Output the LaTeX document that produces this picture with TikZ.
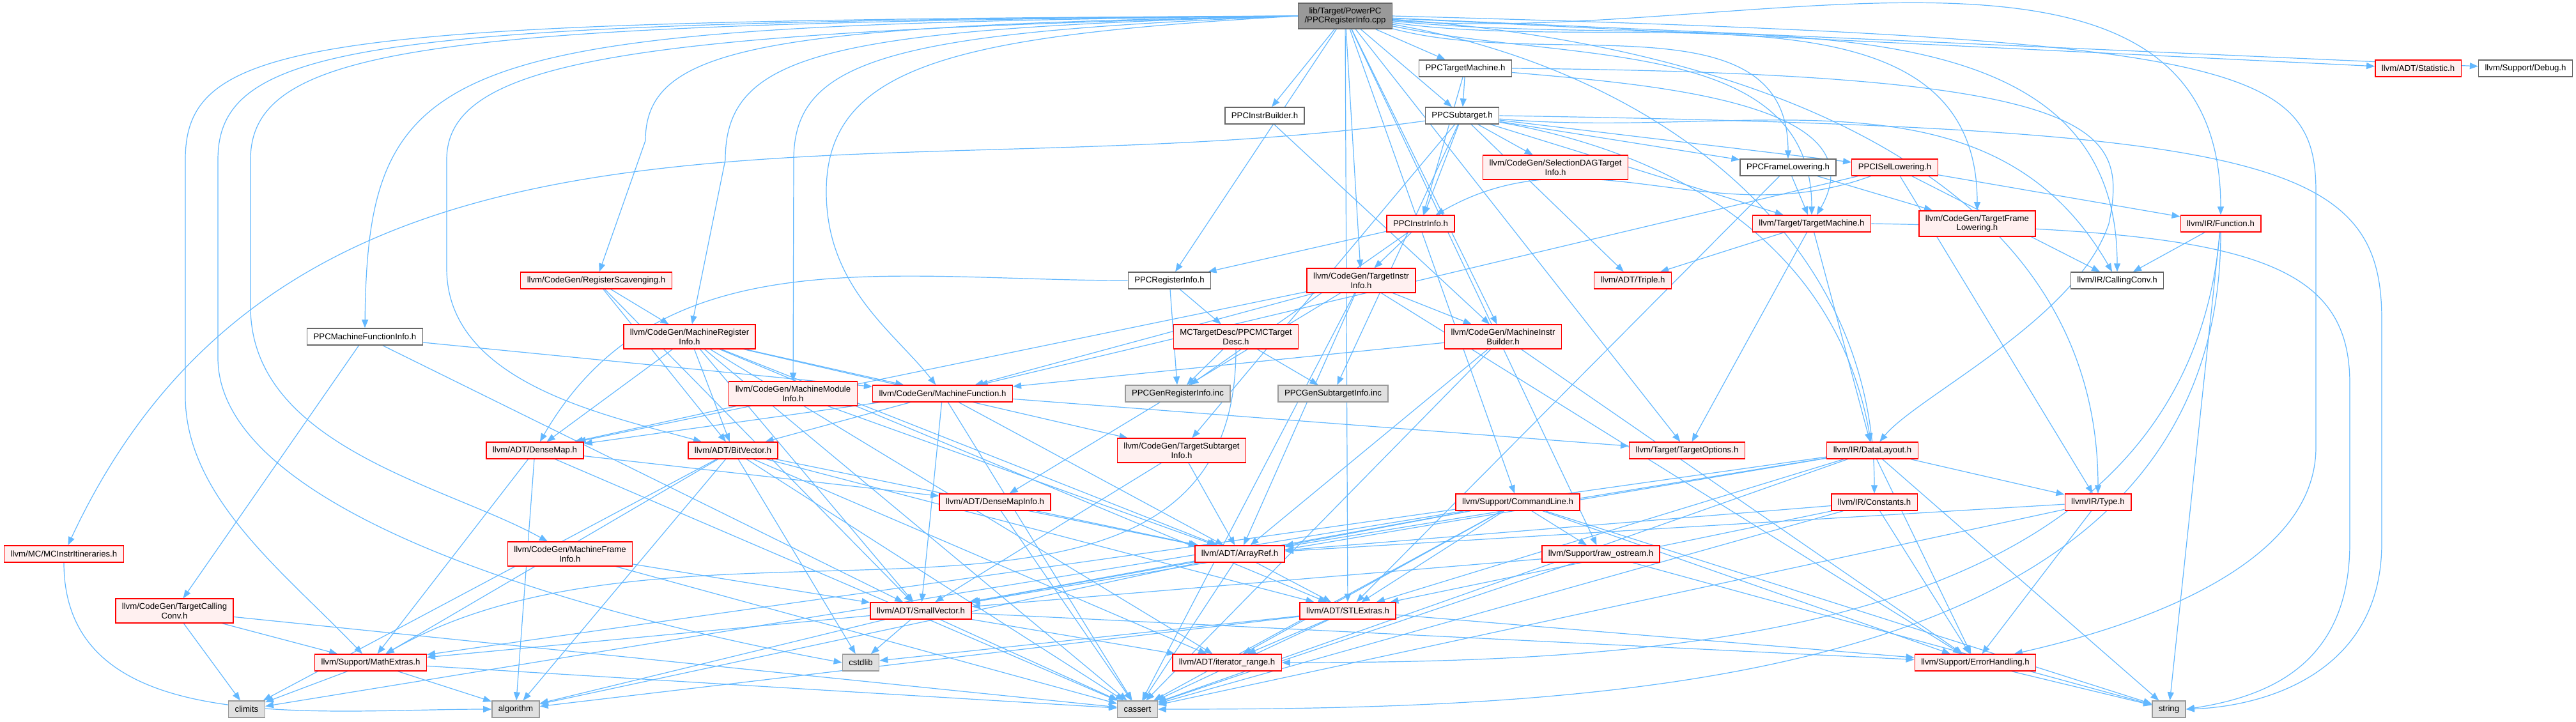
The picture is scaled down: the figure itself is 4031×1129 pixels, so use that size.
\documentclass[tikz,border=0pt]{standalone}
\usepackage{fontspec}
\setmainfont{Liberation Sans}
\usetikzlibrary{arrows.meta,backgrounds}
\definecolor{EdgeBlue}{HTML}{63B8FF}
\definecolor{TruncRed}{HTML}{FF0000}
\definecolor{TruncFill}{HTML}{FFF0F0}
\definecolor{HdrGrey}{HTML}{666666}
\definecolor{SysGrey}{HTML}{999999}
\definecolor{SysFill}{HTML}{E0E0E0}
\definecolor{RootFill}{HTML}{999999}

\begin{document}
\begin{tikzpicture}[
  x=0.25pt,y=-0.25pt,
  every node/.style={font=\fontsize{3.3pt}{3.7pt}\selectfont,align=center,inner xsep=2.5pt,inner ysep=1.65pt,minimum height=6.5pt,line width=0.35pt},
  rootbox/.style={draw=HdrGrey,fill=RootFill},
  hdr/.style={draw=HdrGrey,fill=white},
  trunc/.style={draw=TruncRed,fill=TruncFill},
  sys/.style={draw=SysGrey,fill=SysFill},
  dep/.style={-{Triangle[length=3.25pt,width=2.5pt]},draw=EdgeBlue,line width=0.3pt}
]
\useasboundingbox (0,0) rectangle (4031,1129);
% the file itself
\node[rootbox] (root) at (2105,25) {lib/Target/PowerPC\\/PPCRegisterInfo.cpp};
% rows of included headers
\node[hdr] (tm) at (2293,107) {PPCTargetMachine.h};
\node[trunc] (stat) at (3784,107) {llvm/ADT/Statistic.h};
\node[hdr] (dbg) at (3952,107) {llvm/Support/Debug.h};
\node[hdr] (ib) at (1979,181) {PPCInstrBuilder.h};
\node[hdr] (st) at (2288,181) {PPCSubtarget.h};
\node[trunc] (sdag) at (2434,262) {llvm/CodeGen/SelectionDAGTarget\\Info.h};
\node[hdr] (fl) at (2798,262) {PPCFrameLowering.h};
\node[trunc] (isel) at (2965,262) {PPCISelLowering.h};
\node[trunc] (ii) at (2223,350) {PPCInstrInfo.h};
\node[trunc] (ltm) at (2835,350) {llvm/Target/TargetMachine.h};
\node[trunc] (tfl) at (3094,350) {llvm/CodeGen/TargetFrame\\Lowering.h};
\node[trunc] (fn) at (3475,350) {llvm/IR/Function.h};
\node[trunc] (rs) at (933,439) {llvm/CodeGen/RegisterScavenging.h};
\node[hdr] (ri) at (1830,439) {PPCRegisterInfo.h};
\node[trunc] (tii) at (2130,439) {llvm/CodeGen/TargetInstr\\Info.h};
\node[trunc] (tri) at (2555,439) {llvm/ADT/Triple.h};
\node[hdr] (cc) at (3313,439) {llvm/IR/CallingConv.h};
\node[hdr] (mfi) at (571,527) {PPCMachineFunctionInfo.h};
\node[trunc] (mri) at (1079,527) {llvm/CodeGen/MachineRegister\\Info.h};
\node[trunc] (mcd) at (1934,527) {MCTargetDesc/PPCMCTarget\\Desc.h};
\node[trunc] (mib) at (2352,527) {llvm/CodeGen/MachineInstr\\Builder.h};
\node[trunc] (mmi) at (1241,616) {llvm/CodeGen/MachineModule\\Info.h};
\node[trunc] (mf) at (1475,616) {llvm/CodeGen/MachineFunction.h};
\node[sys] (gri) at (1843,616) {PPCGenRegisterInfo.inc};
\node[sys] (gsi) at (2086,616) {PPCGenSubtargetInfo.inc};
\node[trunc] (dm) at (837,705) {llvm/ADT/DenseMap.h};
\node[trunc] (bv) at (1147,705) {llvm/ADT/BitVector.h};
\node[trunc] (tsi) at (1849,705) {llvm/CodeGen/TargetSubtarget\\Info.h};
\node[trunc] (to) at (2640,705) {llvm/Target/TargetOptions.h};
\node[trunc] (dl) at (2930,705) {llvm/IR/DataLayout.h};
\node[trunc] (dmi) at (1557,786) {llvm/ADT/DenseMapInfo.h};
\node[trunc] (cl) at (2375,786) {llvm/Support/CommandLine.h};
\node[trunc] (cst) at (2933,786) {llvm/IR/Constants.h};
\node[trunc] (ty) at (3283,786) {llvm/IR/Type.h};
\node[trunc] (mii) at (100,867) {llvm/MC/MCInstrItineraries.h};
\node[trunc] (mfri) at (892,867) {llvm/CodeGen/MachineFrame\\Info.h};
\node[trunc] (ar) at (1940,867) {llvm/ADT/ArrayRef.h};
\node[trunc] (ro) at (2505,867) {llvm/Support/raw\_ostream.h};
\node[trunc] (tcc) at (273,956) {llvm/CodeGen/TargetCalling\\Conv.h};
\node[trunc] (sv) at (1441,956) {llvm/ADT/SmallVector.h};
\node[trunc] (stl) at (2109,956) {llvm/ADT/STLExtras.h};
\node[trunc] (me) at (580,1037) {llvm/Support/MathExtras.h};
\node[sys] (csl) at (1347,1037) {cstdlib};
\node[trunc] (ir) at (1920,1037) {llvm/ADT/iterator\_range.h};
\node[trunc] (eh) at (3091,1037) {llvm/Support/ErrorHandling.h};
\node[sys] (clim) at (386,1110) {climits};
\node[sys] (alg) at (807,1110) {algorithm};
\node[sys] (cas) at (1780,1110) {cassert};
\node[sys] (str) at (3394,1110) {string};

\begin{scope}[on background layer]
% includes of the .cpp
\draw[dep] (root) -- (tm); \draw[dep] (root) -- (st); \draw[dep] (root) -- (ib);
\draw[dep] (root) -- (ri); \draw[dep] (root) -- (tii); \draw[dep] (root) -- (mib);
\draw[dep] (root) -- (stl); \draw[dep] (root) -- (to); \draw[dep] (root) -- (cl);
\draw[dep] (root) -- (ro); \draw[dep] (root) -- (stat); \draw[dep] (root) -- (dbg);
\draw[dep] (root) to[out=-15,in=90] (fl);
\draw[dep] (root) to[out=-12,in=90] (ltm);
\draw[dep] (root) to[out=-8,in=90] (tfl);
\draw[dep] (root) to[out=-5,in=90] (fn);
\draw[dep] (root) to[out=-6,in=90] (cc);
\draw[dep] (root) to[out=-10,in=90] (cst);
\draw[dep] (root) to[out=-4,in=90] (ty);
\draw[dep] (root.east) .. controls (3500,60) and (3624,100) .. (3624,300)
  -- (3624,700) .. controls (3624,900) and (3300,990) .. (eh);
% the long ones round the left
\draw[dep] (root.west) .. controls (700,40) and (576,70) .. (mfi.north);
\draw[dep] (root.west) .. controls (500,32) and (290,55) .. (290,250)
  -- (290,620) .. controls (290,780) and (450,900) .. (me);
\draw[dep] (root.west) .. controls (600,34) and (341,60) .. (341,250)
  -- (341,560) .. controls (341,800) and (900,960) .. (csl.west);
\draw[dep] (root.west) .. controls (700,36) and (392,65) .. (392,250)
  -- (392,480) .. controls (392,700) and (700,760) .. (mfri);
\draw[dep] (root.west) .. controls (1000,50) and (699,90) .. (699,250)
  -- (699,420) .. controls (699,600) and (950,650) .. (bv);
\draw[dep] (root.west) .. controls (1200,40) and (1010,70) .. (1010,220) -- (rs);
\draw[dep] (root.west) .. controls (1300,45) and (1135,80) .. (1135,250) -- (mri);
\draw[dep] (root.west) .. controls (1400,50) and (1242,90) .. (1242,250) -- (mmi);
\draw[dep] (root.west) .. controls (1500,55) and (1293,100) .. (1293,300)
  .. controls (1293,450) and (1400,520) .. (mf);
% PPC headers
\draw[dep] (tm) -- (ii); \draw[dep] (tm) -- (st);
\draw[dep] (tm.east) .. controls (3300,115) and (3330,200) .. (3300,350)
  .. controls (3250,500) and (3000,620) .. (dl);
\draw[dep] (tm) to[out=-5,in=60] (ltm);
\draw[dep] (st) -- (fl); \draw[dep] (st) -- (isel); \draw[dep] (st) -- (ii);
\draw[dep] (st) -- (sdag); \draw[dep] (st) -- (tri); \draw[dep] (st) -- (tsi);
\draw[dep] (st) -- (gsi); \draw[dep] (st) -- (ltm);
\draw[dep] (st) to[out=-5,in=120] (cc); \draw[dep] (st) to[out=-10,in=100] (dl);
\draw[dep] (st) to[out=188,in=65] (mii);
\draw[dep] (st.east) .. controls (3550,200) and (3727,250) .. (3727,500)
  -- (3727,850) .. controls (3727,1050) and (3550,1105) .. (str.east);
\draw[dep] (ib) -- (mib);
\draw[dep] (fl) -- (ltm); \draw[dep] (fl) -- (tfl); \draw[dep] (fl) -- (stl);
\draw[dep] (isel) to[out=200,in=30] (ii); \draw[dep] (isel) -- (mf);
\draw[dep] (isel) -- (fn); \draw[dep] (isel) -- (cc); \draw[dep] (isel) -- (ty);
\draw[dep] (ii) -- (ri); \draw[dep] (ii) -- (tii); \draw[dep] (ii) -- (gri);
\draw[dep] (ri) -- (mcd); \draw[dep] (ri) -- (gri); \draw[dep] (ri) to[out=180,in=60] (dm);
\draw[dep] (mcd) -- (gri); \draw[dep] (mcd) -- (gsi); \draw[dep] (mcd) to[out=-90,in=30] (me);
% CodeGen headers
\draw[dep] (tii) -- (mib); \draw[dep] (tii) -- (mf); \draw[dep] (tii) -- (dm);
\draw[dep] (tii) -- (ar); \draw[dep] (tii) -- (dmi); \draw[dep] (tii) -- (eh);
\draw[dep] (tii) -- (cas);
\draw[dep] (mri) -- (mf); \draw[dep] (mri) -- (bv); \draw[dep] (mri) -- (dm);
\draw[dep] (mri) -- (tsi); \draw[dep] (mri) -- (ar); \draw[dep] (mri) -- (sv);
\draw[dep] (mri) -- (stl); \draw[dep] (mri) -- (ir); \draw[dep] (mri) -- (cas);
\draw[dep] (rs) -- (mri); \draw[dep] (rs) -- (bv); \draw[dep] (rs) -- (sv);
\draw[dep] (mfi) -- (mf); \draw[dep] (mfi) -- (tcc); \draw[dep] (mfi) -- (sv);
\draw[dep] (mmi) -- (dm); \draw[dep] (mmi) -- (ar);
\draw[dep] (mf) -- (dm); \draw[dep] (mf) -- (bv); \draw[dep] (mf) -- (sv);
\draw[dep] (mf) -- (ar); \draw[dep] (mf) -- (to); \draw[dep] (mf) -- (cas);
\draw[dep] (mib) -- (mf); \draw[dep] (mib) -- (ar); \draw[dep] (mib) -- (eh);
\draw[dep] (mib) -- (cas);
\draw[dep] (tsi) -- (ar); \draw[dep] (tsi) -- (sv);
\draw[dep] (tcc) -- (me); \draw[dep] (tcc) -- (clim); \draw[dep] (tcc) -- (cas);
\draw[dep] (mfri) -- (sv); \draw[dep] (mfri) -- (cas);
\draw[dep] (mii) to[out=-90,in=180] (alg);
% Target and IR headers
\draw[dep] (ltm) -- (tri); \draw[dep] (ltm) -- (to); \draw[dep] (ltm) -- (dl);
\draw[dep] (ltm.east) .. controls (3500,360) and (3677,400) .. (3677,600)
  -- (3677,850) .. controls (3677,1040) and (3550,1090) .. (str.east);
\draw[dep] (dl) -- (ty); \draw[dep] (dl) -- (ar); \draw[dep] (dl) -- (stl);
\draw[dep] (dl) -- (sv); \draw[dep] (dl) -- (eh); \draw[dep] (dl) -- (me);
\draw[dep] (dl) -- (cas); \draw[dep] (dl) -- (str);
\draw[dep] (fn) -- (cc); \draw[dep] (fn) -- (str);
\draw[dep] (fn) to[out=-90,in=0] (cas); \draw[dep] (fn) to[out=-95,in=0] (ir);
\draw[dep] (cst) -- (ar); \draw[dep] (cst) -- (stl); \draw[dep] (cst) -- (eh);
\draw[dep] (cst) -- (cas);
\draw[dep] (ty) -- (ar); \draw[dep] (ty) -- (eh); \draw[dep] (ty) -- (cas);
% Support and ADT headers
\draw[dep] (cl) -- (ro); \draw[dep] (cl) -- (sv); \draw[dep] (cl) -- (stl);
\draw[dep] (cl) -- (ar); \draw[dep] (cl) -- (ir); \draw[dep] (cl) -- (eh);
\draw[dep] (cl) -- (cas); \draw[dep] (cl) -- (clim); \draw[dep] (cl) -- (str);
\draw[dep] (ro) -- (sv); \draw[dep] (ro) -- (cas); \draw[dep] (ro) -- (str);
\draw[dep] (dm) -- (dmi); \draw[dep] (dm) -- (me); \draw[dep] (dm) -- (alg);
\draw[dep] (dm) -- (cas);
\draw[dep] (dmi) -- (ar); \draw[dep] (dmi) -- (cas);
\draw[dep] (bv) -- (ar); \draw[dep] (bv) -- (stl); \draw[dep] (bv) -- (ir);
\draw[dep] (bv) -- (me); \draw[dep] (bv) -- (alg); \draw[dep] (bv) -- (cas);
\draw[dep] (bv) -- (clim); \draw[dep] (bv) -- (csl);
\draw[dep] (ar) -- (sv); \draw[dep] (ar) -- (stl); \draw[dep] (ar) -- (alg);
\draw[dep] (ar) -- (cas);
\draw[dep] (sv) -- (me); \draw[dep] (sv) -- (csl); \draw[dep] (sv) -- (alg);
\draw[dep] (sv) -- (cas); \draw[dep] (sv) -- (ir); \draw[dep] (sv) -- (eh);
\draw[dep] (stl) -- (ir); \draw[dep] (stl) -- (eh); \draw[dep] (stl) -- (alg);
\draw[dep] (stl) -- (cas); \draw[dep] (stl) -- (csl);
\draw[dep] (me) -- (clim); \draw[dep] (me) -- (alg); \draw[dep] (me) -- (cas);
\draw[dep] (eh) -- (str);
\end{scope}
\end{tikzpicture}
\end{document}
